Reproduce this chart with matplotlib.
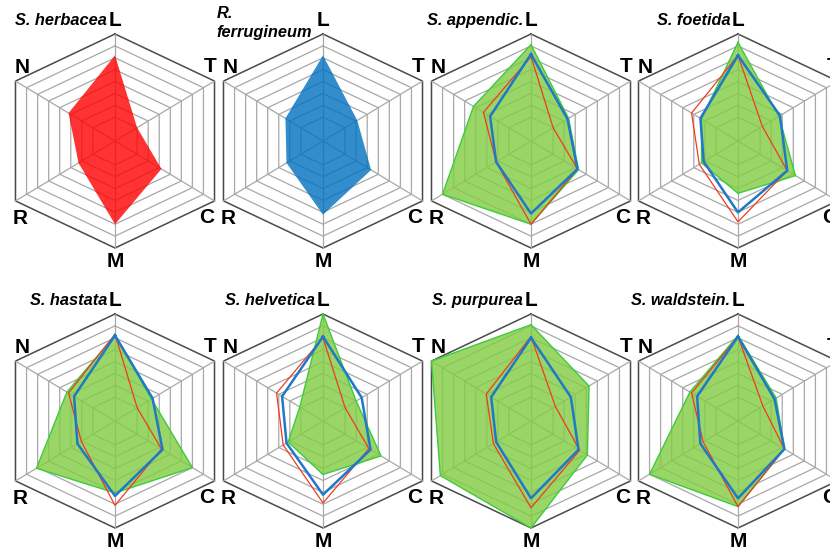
import numpy as np
import matplotlib
matplotlib.use("Agg")
import matplotlib.pyplot as plt

plt.rcParams['font.family'] = ['Liberation Sans', 'DejaVu Sans']

# indicator axes, clockwise from the top
axis_labels = ["L", "T", "C", "M", "R", "N"]
rings = [2, 3, 4, 5, 6, 7, 8, 9]

titles = ["S. herbacea", "R.\nferrugineum", "S. appendic.", "S. foetida",
          "S. hastata", "S. helvetica", "S. purpurea", "S. waldstein."]

# single-species profiles (top left panels)
herbacea = [7.2, 2.0, 4.2, 7.0, 3.3, 4.2]
ferrugineum = [7.2, 3.1, 4.35, 6.2, 3.3, 3.4]

# willow panels: green = willow, red / blue = companion profiles
appendic_green = [8.1, 3.4, 4.3, 7.0, 8.0, 5.2]
appendic_red = [7.1, 2.0, 4.2, 7.0, 3.15, 4.3]
appendic_blue = [7.3, 3.3, 4.2, 6.1, 3.15, 3.7]

foetida_green = [8.3, 3.7, 5.2, 4.4, 3.3, 3.3]
foetida_red = [7.2, 2.2, 4.45, 6.8, 3.5, 4.2]
foetida_blue = [7.2, 3.8, 4.45, 6.0, 3.1, 3.4]

hastata_green = [7.2, 3.3, 7.0, 6.05, 7.1, 4.35]
hastata_red = [7.3, 2.0, 4.2, 7.1, 3.05, 4.2]
hastata_blue = [7.2, 3.4, 4.3, 6.3, 3.4, 3.7]

helvetica_green = [9.0, 3.0, 5.25, 4.5, 3.15, 2.1]
helvetica_red = [7.0, 2.0, 4.15, 6.9, 3.6, 4.2]
helvetica_blue = [7.1, 3.5, 4.3, 6.2, 3.3, 3.7]

purpurea_green = [8.1, 5.25, 5.1, 9.0, 8.2, 9.0]
purpurea_red = [7.1, 2.2, 4.4, 7.3, 3.4, 4.05]
purpurea_blue = [7.0, 3.6, 4.3, 6.5, 3.15, 3.6]

waldstein_green = [7.2, 3.45, 4.2, 7.2, 8.0, 4.35]
waldstein_red = [7.1, 2.25, 4.2, 7.2, 3.15, 4.2]
waldstein_blue = [7.1, 3.3, 4.2, 6.5, 3.4, 3.7]

willow_sets = [
    (appendic_green, appendic_red, appendic_blue),
    (foetida_green, foetida_red, foetida_blue),
    (hastata_green, hastata_red, hastata_blue),
    (helvetica_green, helvetica_red, helvetica_blue),
    (purpurea_green, purpurea_red, purpurea_blue),
    (waldstein_green, waldstein_red, waldstein_blue),
]

# unit direction of each spoke (the hexagon is a little squashed)
dx = np.array([0, 0.93, 0.93, 0, -0.93, -0.93])
dy = np.array([1, 0.56, -0.56, -1, -0.56, 0.56])

label_pos = [(0, 10.1), (8.0, 6.3), (7.7, -6.4), (0, -10.1), (-8.0, -6.5), (-7.8, 6.2)]


def xy(vals):
    v = np.asarray(vals, dtype=float)
    x = np.append(v * dx, v[0] * dx[0])
    y = np.append(v * dy, v[0] * dy[0])
    return x, y


def frame(ax, title):
    for r in rings:
        x, y = xy([r] * 6)
        if r == rings[-1]:
            ax.plot(x, y, color="#4a4a4a", lw=1.1, zorder=1)
        else:
            ax.plot(x, y, color="#a8a8a8", lw=0.9, zorder=1)
    for k in range(6):
        ax.plot([0, 9 * dx[k]], [0, 9 * dy[k]], color="#a8a8a8", lw=0.9, zorder=1)
    for lab, (lx, ly) in zip(axis_labels, label_pos):
        ax.text(lx, ly, lab, fontsize=15, fontweight="bold", ha="center",
                va="center", clip_on=False)
    if "\n" in title:
        ax.text(-0.9, 9.95, title, fontsize=11.8, fontweight="bold", style="italic",
                ha="right", va="center", multialignment="left", linespacing=1.35)
    else:
        ax.text(-0.65, 10.15, title, fontsize=11.8, fontweight="bold", style="italic",
                ha="right", va="center")


fig = plt.figure(figsize=(8.3, 5.56), dpi=100)
W, H = 830, 556
unit = 107 / 9
centers_x = [115, 323, 531, 738]
centers_y = [141, 421]
bw, bh = 208, 280

axes = []
for i in range(8):
    cx = centers_x[i % 4]
    cy = centers_y[i // 4]
    ax = fig.add_axes([(cx - bw / 2) / W, (H - cy - bh / 2) / H, bw / W, bh / H])
    ax.set_xlim(-bw / 2 / unit, bw / 2 / unit)
    ax.set_ylim(-bh / 2 / unit, bh / 2 / unit)
    ax.axis("off")
    ax.patch.set_visible(False)
    frame(ax, titles[i])
    axes.append(ax)

x, y = xy(herbacea)
axes[0].fill(x, y, color="#ff0000", alpha=0.8, lw=0, zorder=2)
x, y = xy(ferrugineum)
axes[1].fill(x, y, color="#0070c0", alpha=0.8, lw=0, zorder=2)

for ax, (g, r, b) in zip(axes[2:], willow_sets):
    x, y = xy(g)
    ax.fill(x, y, facecolor="#84cc45", alpha=0.82, lw=0, zorder=2)
    ax.plot(x, y, color="#3ccc3c", lw=1.0, zorder=3)
    x, y = xy(r)
    ax.plot(x, y, color="#f23a1e", lw=0.9, zorder=4)
    x, y = xy(b)
    ax.plot(x, y, color="#1f78c8", lw=1.8, zorder=5)

fig.savefig("out.png", dpi=100)
